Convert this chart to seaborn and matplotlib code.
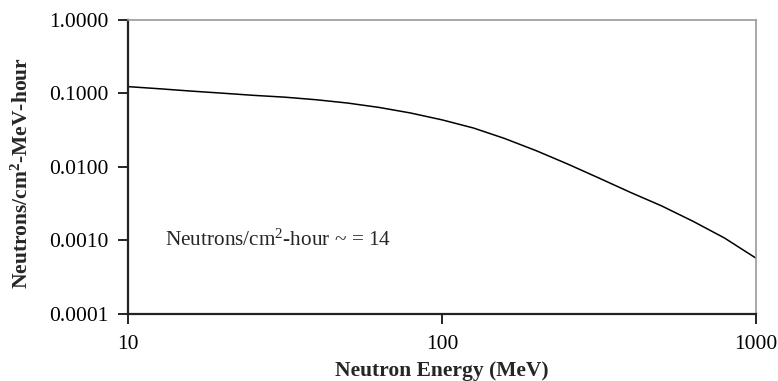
import matplotlib
matplotlib.use("Agg")
import matplotlib.pyplot as plt
import matplotlib.ticker as mticker
import seaborn as sns
import pandas as pd

energy_mev = [10, 12.6, 15.8, 20, 25.1, 31.6, 39.8, 50.1, 63.1, 79.4, 100,
              126, 158, 200, 251, 316, 398, 501, 631, 794, 1000]
flux = [0.124, 0.116, 0.108, 0.101, 0.0944, 0.0891, 0.0822, 0.0741, 0.0646, 0.0543, 0.0438,
        0.0339, 0.0245, 0.0166, 0.0110, 0.00708, 0.00452, 0.00295, 0.00182, 0.00108, 0.000575]
y_ticks = [0.0001, 0.001, 0.01, 0.1, 1.0]
x_ticks = [10, 100, 1000]
annotation = "Neutrons/cm$^2$-hour ~ = 14"

df = pd.DataFrame({"energy": energy_mev, "flux": flux})

sns.set_style("white")
plt.rcParams["font.family"] = ["Liberation Serif", "DejaVu Serif"]
plt.rcParams["mathtext.fontset"] = "custom"
plt.rcParams["mathtext.rm"] = "Liberation Serif"
plt.rcParams["mathtext.it"] = "Liberation Serif:italic"
plt.rcParams["mathtext.bf"] = "Liberation Serif:bold"
plt.rcParams["mathtext.default"] = "regular"

FS = 15.5

fig = plt.figure(figsize=(7.78, 3.81), dpi=100)
ax = fig.add_axes([0.1645, 0.1759, 0.8072, 0.7716])

sns.lineplot(data=df, x="energy", y="flux", ax=ax, color="black", linewidth=1.1)

ax.set_xscale("log")
ax.set_yscale("log")
ax.set_xlim(10, 1000)
ax.set_ylim(0.0001, 1.0)
ax.set_xticks(x_ticks)
ax.set_yticks(y_ticks)
ax.xaxis.set_major_formatter(mticker.FuncFormatter(lambda v, p: f"{v:g}"))
ax.yaxis.set_major_formatter(mticker.FuncFormatter(lambda v, p: f"{v:.4f}"))
ax.xaxis.set_minor_locator(mticker.NullLocator())
ax.yaxis.set_minor_locator(mticker.NullLocator())
ax.tick_params(axis="both", which="major", direction="out", length=7, width=1.2,
               labelsize=FS, colors="black", bottom=True, left=True)
ax.tick_params(axis="y", pad=7)
ax.tick_params(axis="x", pad=8)

for s in ["left", "bottom"]:
    ax.spines[s].set_color("#222222")
    ax.spines[s].set_linewidth(1.6)
for s in ["top", "right"]:
    ax.spines[s].set_color("#999999")
    ax.spines[s].set_linewidth(1.2)

ax.set_xlabel("Neutron Energy (MeV)", fontsize=FS, fontweight="bold", labelpad=5)
ax.set_ylabel(r"Neutrons/cm$\mathbf{^2}$-MeV-hour", fontsize=FS, fontweight="bold")
ax.yaxis.set_label_coords(-0.152, 0.48)

ax.text(13.1, 0.001, annotation, fontsize=15.3, ha="left", va="center")

fig.savefig("out.png", dpi=100)
